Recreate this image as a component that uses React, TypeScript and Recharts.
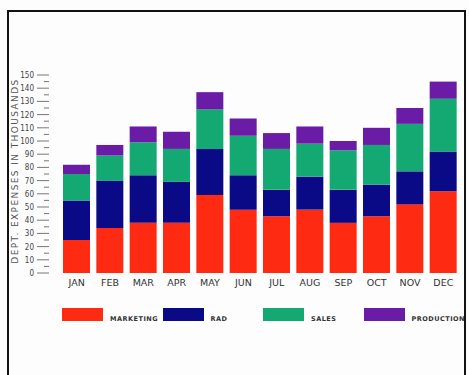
import React from 'react';
import { BarChart, Bar, XAxis, YAxis, Legend } from 'recharts';

const months = ['JAN', 'FEB', 'MAR', 'APR', 'MAY', 'JUN', 'JUL', 'AUG', 'SEP', 'OCT', 'NOV', 'DEC'];
const marketing = [25, 34, 38, 38, 59, 48, 43, 48, 38, 43, 52, 62];
const rad = [30, 36, 36, 31, 35, 26, 20, 25, 25, 24, 25, 30];
const sales = [20, 19, 25, 25, 30, 30, 31, 25, 30, 30, 36, 40];
const production = [7, 8, 12, 13, 13, 13, 12, 13, 7, 13, 12, 13];
const yTicks = [0, 5, 10, 15, 20, 25, 30, 35, 40, 45, 50, 55, 60, 65, 70, 75, 80, 85, 90, 95, 100, 105, 110, 115, 120, 125, 130, 135, 140, 145, 150];

const series = [
  { key: 'marketing', name: 'MARKETING', color: '#ff2a12' },
  { key: 'rad', name: 'RAD', color: '#0a0a86' },
  { key: 'sales', name: 'SALES', color: '#14a872' },
  { key: 'production', name: 'PRODUCTION', color: '#6a1ca6' },
];

const data = months.map((m, i) => ({
  month: m,
  marketing: marketing[i],
  rad: rad[i],
  sales: sales[i],
  production: production[i],
}));

// y ticks: long line + label every 10, short line in between
const YTick = (props: any) => {
  const { x, y, payload } = props;
  const major = payload.value % 10 === 0;
  return (
    <g>
      <line x1={major ? x - 15 : x - 8} x2={x - 3} y1={y} y2={y} stroke="#777" strokeWidth={1} />
      {major && (
        <text x={x - 18} y={y + 3} textAnchor="end" fontSize={8} fill="#444" fontFamily="DejaVu Sans Condensed, DejaVu Sans">
          {payload.value}
        </text>
      )}
    </g>
  );
};

const LegendBox = () => (
  <div style={{ position: 'relative', width: 469, height: 24 }}>
    {series.map((s, i) => (
      <div key={s.key} style={{ position: 'absolute', left: 62 + i * 100.5, top: 5, display: 'flex', alignItems: 'flex-end' }}>
        <div style={{ width: 41, height: 13, background: s.color }} />
        <span style={{ marginLeft: 7, marginBottom: -2, fontSize: 6.5, fontWeight: 'bold', letterSpacing: 0.5, color: '#333', fontFamily: 'DejaVu Sans', lineHeight: '8px' }}>
          {s.name}
        </span>
      </div>
    ))}
  </div>
);

export default function App() {
  return (
    <div style={{ position: 'absolute', left: 0, top: 0, width: 469, height: 375, background: '#fdfdfd', overflow: 'hidden' }}>
      <div style={{ position: 'absolute', left: 7, top: 10, width: 459, height: 372, borderLeft: '2px solid #111', borderTop: '2px solid #111', borderRight: '2px solid #111', boxSizing: 'border-box' }} />
      <div style={{ position: 'absolute', left: 0, top: 0 }}>
        <BarChart width={469} height={375} data={data} margin={{ top: 75, right: 9, bottom: 82, left: 0 }} barCategoryGap="9%">
          <XAxis
            dataKey="month"
            axisLine={false}
            tickLine={false}
            height={20}
            tick={{ fontSize: 9.5, fill: '#333', fontFamily: 'DejaVu Sans' }}
            dy={-2}
          />
          <YAxis
            width={60}
            domain={[0, 150]}
            ticks={yTicks}
            interval={0}
            axisLine={false}
            tickLine={false}
            tick={<YTick />}
            label={{
              value: 'DEPT. EXPENSES IN THOUSANDS',
              angle: -90,
              position: 'insideLeft',
              offset: 0,
              dx: 15,
              dy: -3,
              style: { fontSize: 9, letterSpacing: 1.4, fill: '#555', fontFamily: 'DejaVu Sans', textAnchor: 'middle' },
            }}
          />
          <Legend
            layout="horizontal"
            verticalAlign="middle"
            align="center"
            wrapperStyle={{ top: 303, left: 0, width: 469 }}
            content={() => <LegendBox />}
          />
          {series.map((s) => (
            <Bar key={s.key} dataKey={s.key} name={s.name} stackId="a" fill={s.color} isAnimationActive={false} />
          ))}
        </BarChart>
      </div>
    </div>
  );
}
